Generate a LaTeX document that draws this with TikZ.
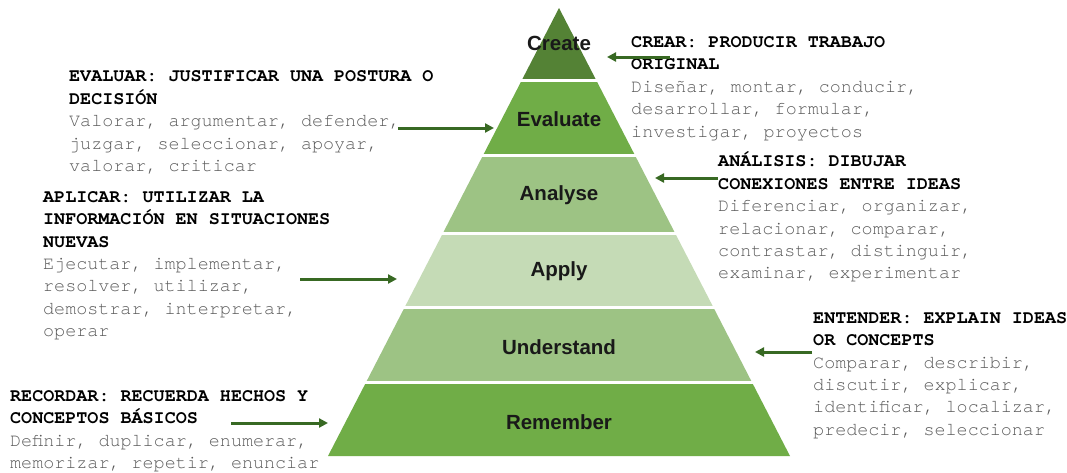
\documentclass[tikz,border=0pt]{standalone}
\usepackage{fontspec}
\setmainfont{Liberation Sans}
\newfontfamily\monofont{TeX Gyre Cursor}
\usetikzlibrary{arrows.meta}
\definecolor{cCreate}{RGB}{84,130,53}
\definecolor{cEval}{RGB}{112,173,71}
\definecolor{cAnal}{RGB}{157,195,132}
\definecolor{cApply}{RGB}{197,219,182}
\definecolor{cUnder}{RGB}{157,195,132}
\definecolor{cRemem}{RGB}{112,173,71}
\definecolor{arrowgreen}{RGB}{56,105,35}
\definecolor{bodygray}{RGB}{90,90,90}
\definecolor{lblblack}{RGB}{25,25,25}
\newcommand{\hd}[1]{{\color{black}\bfseries #1}}
\begin{document}
\begin{tikzpicture}[x=1pt,y=-1pt,
  lbl/.style={font=\bfseries\fontsize{20.5}{24}\selectfont, text=lblblack, inner sep=0},
  txt/.style={anchor=north west, inner sep=0, align=left, text=bodygray,
    font=\monofont\fontsize{18.4}{22.4}\selectfont},
  arr/.style={draw=arrowgreen, line width=3pt, -{Triangle[length=9pt,width=9pt]}},
  gap/.style={draw=white, line width=3pt}]
\useasboundingbox (0,0) rectangle (1067,472);
\fill[white] (0,0) rectangle (1067,472);
% pyramid bands
\fill[cCreate] (559,8) -- (596.1,80) -- (521.9,80) -- cycle;
\fill[cEval] (521.9,80) -- (596.1,80) -- (634.8,155) -- (483.2,155) -- cycle;
\fill[cAnal] (483.2,155) -- (634.8,155) -- (675.0,233) -- (443.0,233) -- cycle;
\fill[cApply] (443.0,233) -- (675.0,233) -- (713.2,307) -- (404.8,307) -- cycle;
\fill[cUnder] (404.8,307) -- (713.2,307) -- (751.8,382) -- (366.2,382) -- cycle;
\fill[cRemem] (366.2,382) -- (751.8,382) -- (790,456) -- (328,456) -- cycle;
\draw[gap] (515,80) -- (603,80);
\draw[gap] (476,155) -- (642,155);
\draw[gap] (436,233) -- (682,233);
\draw[gap] (398,307) -- (720,307);
\draw[gap] (359,382) -- (759,382);
% labels
\node[lbl] (create) at (559,43) {Create};
\node[lbl] (evaluate) at (559,119) {Evaluate};
\node[lbl] (analyse) at (559,195) {Analyse};
\node[lbl] (apply) at (559,271) {Apply};
\node[lbl] (understand) at (559,347) {Understand};
\node[lbl] (remember) at (559,422) {Remember};
% text blocks
\node[txt] (tCrear) at (631,31.6) {\strut\hd{CREAR: PRODUCIR TRABAJO}\\\hd{ORIGINAL}\\Diseñar, montar, conducir,\\desarrollar, formular,\\investigar, proyectos};
\node[txt] (tEval) at (69,66) {\strut\hd{EVALUAR: JUSTIFICAR UNA POSTURA O}\\\hd{DECISIÓN}\\Valorar, argumentar, defender,\\juzgar, seleccionar, apoyar,\\valorar, criticar};
\node[txt] (tAnal) at (718,151) {\strut\hd{ANÁLISIS: DIBUJAR}\\\hd{CONEXIONES ENTRE IDEAS}\\Diferenciar, organizar,\\relacionar, comparar,\\contrastar, distinguir,\\examinar, experimentar};
\node[txt] (tApl) at (43,186.5) {\strut\hd{APLICAR: UTILIZAR LA}\\\hd{INFORMACIÓN EN SITUACIONES}\\\hd{NUEVAS}\\Ejecutar, implementar,\\resolver, utilizar,\\demostrar, interpretar,\\operar};
\node[txt] (tEnt) at (813,307.5) {\strut\hd{ENTENDER: EXPLAIN IDEAS}\\\hd{OR CONCEPTS}\\Comparar, describir,\\discutir, explicar,\\identificar, localizar,\\predecir, seleccionar};
\node[txt] (tRec) at (10,385.5) {\strut\hd{RECORDAR: RECUERDA HECHOS Y}\\\hd{CONCEPTOS BÁSICOS}\\Definir, duplicar, enumerar,\\memorizar, repetir, enunciar};
% arrows
\coordinate (aCs) at (670,57);  \coordinate (aCe) at (607,57);
\coordinate (aEs) at (398,128); \coordinate (aEe) at (494,128);
\coordinate (aAs) at (718,178); \coordinate (aAe) at (655,178);
\coordinate (aPs) at (300,279); \coordinate (aPe) at (397,279);
\coordinate (aUs) at (812,352); \coordinate (aUe) at (755,352);
\coordinate (aRs) at (231,423); \coordinate (aRe) at (328,423);
\draw[arr] (aCs) -- (aCe);
\draw[arr] (aEs) -- (aEe);
\draw[arr] (aAs) -- (aAe);
\draw[arr] (aPs) -- (aPe);
\draw[arr] (aUs) -- (aUe);
\draw[arr] (aRs) -- (aRe);
\end{tikzpicture}
\end{document}
